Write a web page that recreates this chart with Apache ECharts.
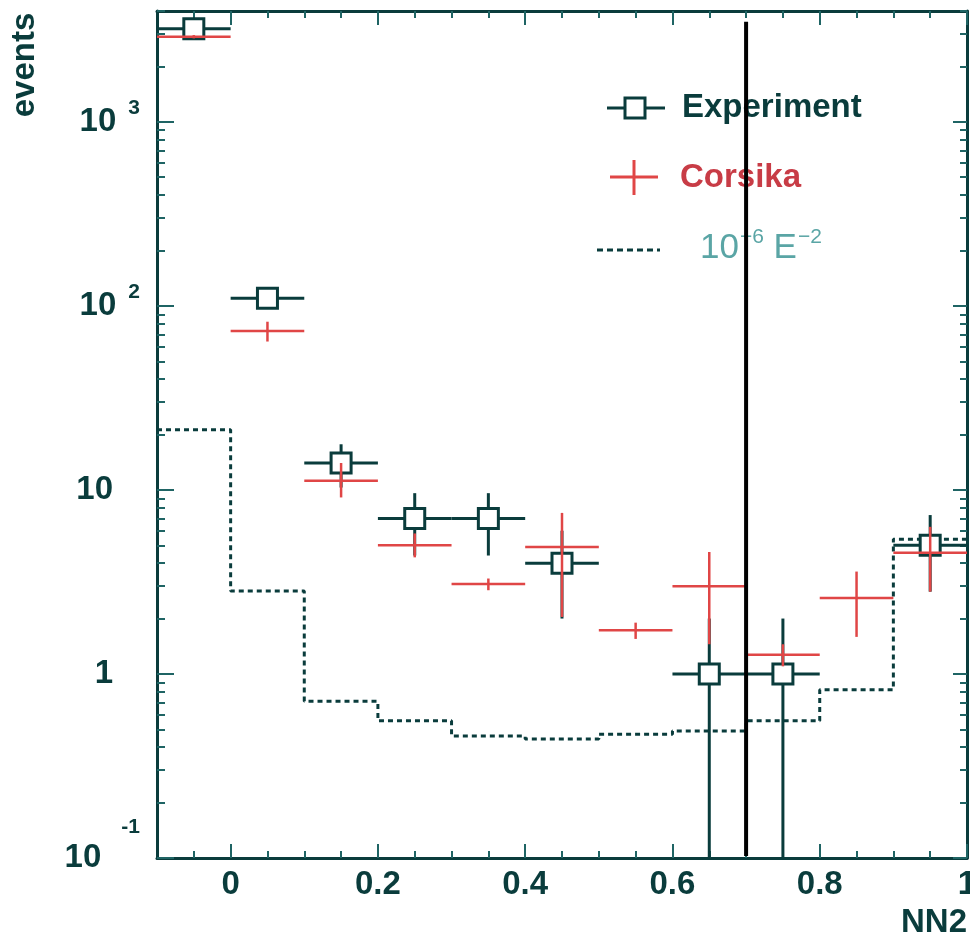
<!DOCTYPE html>
<html>
<head>
<meta charset="utf-8">
<script src="https://cdn.jsdelivr.net/npm/echarts@6/dist/echarts.min.js"></script>
<style>
  html, body { margin: 0; padding: 0; background: #ffffff; }
  #chart { width: 970px; height: 940px; }
</style>
</head>
<body>
<div id="chart"></div>
<script>
// NN2 output: experimental events vs. CORSIKA simulation and a 10^-6 E^-2 flux
const binCenters = [-0.05, 0.05, 0.15, 0.25, 0.35, 0.45, 0.55, 0.65, 0.75, 0.85, 0.95];
const binWidth = 0.1;

// Experiment (null = empty bin)
const expCounts = [3200, 110, 14, 7, 7, 4, null, 1, 1, null, 5];
const expUpper  = [3260, 120, 17.7, 9.6, 9.6, 6, null, 2, 2, null, 7.3];
const expLower  = [3140, 100, 10.3, 4.4, 4.4, 2, null, 0, 0, null, 2.8];

// Corsika simulation
const corsikaCounts = [2900, 73, 11.2, 5.0, 3.08, 4.9, 1.73, 3.0, 1.27, 2.59, 4.55];
const corsikaUpper  = [2960, 82, 14, 5.8, 3.3, 7.5, 1.9, 4.6, 1.45, 3.6, 6.3];
const corsikaLower  = [2840, 64, 9.1, 4.3, 2.85, 2.04, 1.55, 1.45, 1.1, 1.59, 2.8];

// 10^-6 E^-2 flux histogram
const fluxCounts = [21.2, 2.82, 0.71, 0.556, 0.46, 0.443, 0.47, 0.49, 0.556, 0.82, 5.4];

// Cut position
const cutValue = 0.7;
const cutTop = 3500;

// Axes
const xRange = [-0.1, 1.0];
const yRange = [0.1, 4000];
const xLabelValues = [0, 0.2, 0.4, 0.6, 0.8, 1];
const xMinorTicks = [-0.05, 0.05, 0.1, 0.15, 0.25, 0.3, 0.35, 0.45, 0.5, 0.55,
                     0.65, 0.7, 0.75, 0.85, 0.9, 0.95];
const yLabelValues = [0.1, 1, 10, 100, 1000];
const yLabelMantissa = ['10', '1', '10', '10', '10'];
const yLabelExponent = ['-1', '', '', '2', '3'];
const yMinorTicks = [0.2, 0.3, 0.4, 0.5, 0.6, 0.7, 0.8, 0.9,
                     2, 3, 4, 5, 6, 7, 8, 9,
                     20, 30, 40, 50, 60, 70, 80, 90,
                     200, 300, 400, 500, 600, 700, 800, 900,
                     2000, 3000, 4000];

const ink = '#0a3c3c';
const tickInk = '#1f6464';
const red = '#e04646';
const redText = '#c83c46';
const fluxText = '#5aa5a5';
const font = '"Liberation Sans", Arial, Helvetica, sans-serif';

const half = binWidth / 2;
const expData = [];
const corsikaData = [];
const fluxData = [];
binCenters.forEach((c, i) => {
  if (expCounts[i] !== null) expData.push([c, expCounts[i], expUpper[i], expLower[i]]);
  corsikaData.push([c, corsikaCounts[i], corsikaUpper[i], corsikaLower[i]]);
  fluxData.push([c - half, fluxCounts[i]]);
});
fluxData.push([binCenters[binCenters.length - 1] + half, fluxCounts[fluxCounts.length - 1]]);

function xAxisDef(position, ticks, len, main) {
  return {
    type: 'value', position: position, min: xRange[0], max: xRange[1],
    axisLine: { show: main, onZero: false, lineStyle: { color: ink, width: 3 } },
    axisTick: { show: true, inside: true, length: len, customValues: ticks,
                lineStyle: { color: tickInk, width: 2 } },
    axisLabel: (main && position === 'bottom') ? {
      show: true, customValues: xLabelValues, margin: 10,
      fontSize: 33, fontWeight: 'bold', fontFamily: font, color: ink,
      formatter: v => String(v)
    } : { show: false },
    splitLine: { show: false }
  };
}

function findLabel(v) {
  let best = 0, bd = Infinity;
  yLabelValues.forEach((t, i) => {
    const d = Math.abs(Math.log10(t) - Math.log10(v));
    if (d < bd) { bd = d; best = i; }
  });
  return best;
}

function yAxisDef(position, ticks, len, main) {
  return {
    type: 'log', logBase: 10, position: position, min: yRange[0], max: yRange[1],
    axisLine: { show: main, onZero: false, lineStyle: { color: ink, width: 3 } },
    axisTick: { show: true, inside: true, length: len, customValues: ticks,
                lineStyle: { color: tickInk, width: 2 } },
    axisLabel: (main && position === 'left') ? {
      show: true, customValues: yLabelValues, margin: 17,
      fontSize: 33, fontWeight: 'bold', fontFamily: font, color: ink,
      formatter: v => {
        const i = findLabel(v);
        const e = yLabelExponent[i];
        if (!e) return '{mp|' + yLabelMantissa[i] + '}';
        return '{m|' + yLabelMantissa[i] + '}{' + (e.charAt(0) === '-' ? 'en' : 'e') + '|' + e + '}';
      },
      rich: {
        m:  { fontSize: 33, fontWeight: 'bold', fontFamily: font, color: ink },
        mp: { fontSize: 33, fontWeight: 'bold', fontFamily: font, color: ink, padding: [0, 27, 0, 0] },
        e:  { fontSize: 21, fontWeight: 'bold', fontFamily: font, color: ink, padding: [0, 0, 28, 12] },
        en: { fontSize: 21, fontWeight: 'bold', fontFamily: font, color: ink, padding: [0, 0, 62, 20] }
      }
    } : { show: false },
    splitLine: { show: false }
  };
}

function errorCross(withBox, color, width) {
  return function (params, api) {
    const xc = api.value(0), v = api.value(1), up = api.value(2);
    const lo = Math.max(api.value(3), yRange[0]);
    const pL = api.coord([xc - half, v]);
    const pR = api.coord([xc + half, v]);
    const pT = api.coord([xc, up]);
    const pB = api.coord([xc, lo]);
    const children = [
      { type: 'line', shape: { x1: pL[0], y1: pL[1], x2: pR[0], y2: pR[1] },
        style: { stroke: color, lineWidth: width } },
      { type: 'line', shape: { x1: pT[0], y1: pT[1], x2: pB[0], y2: pB[1] },
        style: { stroke: color, lineWidth: width } }
    ];
    if (withBox) {
      const c = api.coord([xc, v]);
      children.push({ type: 'rect', shape: { x: c[0] - 10, y: c[1] - 10, width: 20, height: 20 },
        style: { fill: '#ffffff', stroke: color, lineWidth: 3 } });
    }
    return { type: 'group', children: children };
  };
}

const chart = echarts.init(document.getElementById('chart'), null, { renderer: 'canvas' });

chart.setOption({
  animation: false,
  backgroundColor: '#ffffff',
  grid: { left: 157, right: 3, top: 11, bottom: 82, containLabel: false, outerBoundsMode: 'none' },
  xAxis: [
    xAxisDef('bottom', xLabelValues, 14, true),
    xAxisDef('bottom', xMinorTicks, 7, false),
    xAxisDef('top', xLabelValues, 14, true),
    xAxisDef('top', xMinorTicks, 7, false)
  ],
  yAxis: [
    yAxisDef('left', yLabelValues, 17, true),
    yAxisDef('left', yMinorTicks, 8, false),
    yAxisDef('right', yLabelValues, 14, true),
    yAxisDef('right', yMinorTicks, 7, false)
  ],
  series: [
    {
      name: 'flux', type: 'line', step: 'end', data: fluxData,
      xAxisIndex: 0, yAxisIndex: 0, symbol: 'none', z: 2,
      lineStyle: { color: ink, width: 3, type: [5, 4], cap: 'butt' }
    },
    {
      name: 'Experiment', type: 'custom', data: expData, xAxisIndex: 0, yAxisIndex: 0,
      encode: { x: 0, y: 1 }, z: 3, renderItem: errorCross(true, ink, 3)
    },
    {
      name: 'Corsika', type: 'custom', data: corsikaData, xAxisIndex: 0, yAxisIndex: 0,
      encode: { x: 0, y: 1 }, z: 4, renderItem: errorCross(false, red, 2.5)
    },
    {
      name: 'cut', type: 'custom', data: [[cutValue, cutTop]], xAxisIndex: 0, yAxisIndex: 0,
      encode: { x: 0, y: 1 }, z: 5,
      renderItem: (params, api) => {
        const a = api.coord([api.value(0), api.value(1)]);
        const b = api.coord([api.value(0), yRange[0]]);
        return { type: 'line', shape: { x1: a[0], y1: a[1], x2: b[0], y2: b[1] - 2 },
                 style: { stroke: '#000000', lineWidth: 4 } };
      }
    }
  ],
  graphic: [
    // axis titles
    { type: 'text', x: 25, y: 65, rotation: Math.PI / 2,
      style: { text: 'events', font: 'bold 33px ' + font, fill: ink,
               textAlign: 'center', textVerticalAlign: 'middle' } },
    { type: 'text', x: 967, y: 923,
      style: { text: 'NN2', font: 'bold 33px ' + font, fill: ink,
               textAlign: 'right', textVerticalAlign: 'middle' } },
    // legend: Experiment
    { type: 'line', shape: { x1: 607, y1: 108, x2: 665, y2: 108 }, style: { stroke: ink, lineWidth: 3 } },
    { type: 'rect', shape: { x: 625, y: 98, width: 20, height: 20 },
      style: { fill: '#ffffff', stroke: ink, lineWidth: 3 } },
    { type: 'text', x: 682, y: 108,
      style: { text: 'Experiment', font: 'bold 33px ' + font, fill: ink,
               textAlign: 'left', textVerticalAlign: 'middle' } },
    // legend: Corsika
    { type: 'line', shape: { x1: 610, y1: 177, x2: 658, y2: 177 }, style: { stroke: red, lineWidth: 3 } },
    { type: 'line', shape: { x1: 634, y1: 160, x2: 634, y2: 195 }, style: { stroke: red, lineWidth: 3 } },
    { type: 'text', x: 680, y: 178,
      style: { text: 'Corsika', font: 'bold 33px ' + font, fill: redText,
               textAlign: 'left', textVerticalAlign: 'middle' } },
    // legend: flux
    { type: 'line', shape: { x1: 597, y1: 250, x2: 660, y2: 250 },
      style: { stroke: ink, lineWidth: 3, lineDash: [6, 4] } },
    { type: 'text', x: 700, y: 248,
      style: {
        text: '{n|10}{s|\u22126}{n| E}{s|\u22122}',
        textAlign: 'left', textVerticalAlign: 'middle',
        rich: {
          n: { fontSize: 35, fontFamily: font, fill: fluxText, color: fluxText },
          s: { fontSize: 21, fontFamily: font, fill: fluxText, color: fluxText, padding: [0, 0, 22, 1] }
        }
      } }
  ]
});
</script>
</body>
</html>
